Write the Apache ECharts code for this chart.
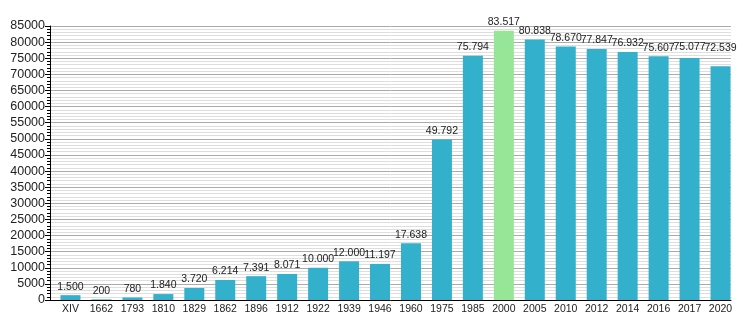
<!DOCTYPE html>
<html>
<head>
<meta charset="utf-8">
<script src="https://cdn.jsdelivr.net/npm/echarts@6/dist/echarts.min.js"></script>
<style>
  html, body { margin: 0; padding: 0; background: #fff; }
  #chart { width: 750px; height: 330px; }
</style>
</head>
<body>
<div id="chart"></div>
<script>
// Population by census year
const years = ['XIV', '1662', '1793', '1810', '1829', '1862', '1896', '1912', '1922', '1939', '1946',
  '1960', '1975', '1985', '2000', '2005', '2010', '2012', '2014', '2016', '2017', '2020'];
const population = [1500, 200, 780, 1840, 3720, 6214, 7391, 8071, 10000, 12000, 11197,
  17638, 49792, 75794, 83517, 80838, 78670, 77847, 76932, 75607, 75077, 72539];
const highlightYear = '2000';

const yMin = 0;
const yMax = 85000;
const yStep = 5000;

const barColor = '#33b1cc';
const highlightColor = '#97e597';
const fontFamily = '"Liberation Sans", Arial, sans-serif';

// Last labels are kept on one line with their neighbour (extra lift in px)
const labelLift = { '2017': 2, '2020': 10 };

// Thousands separated with a dot: 83517 -> "83.517"
function dotted(v) {
  return String(v).replace(/\B(?=(\d{3})+(?!\d))/g, '.');
}

const chart = echarts.init(document.getElementById('chart'), null, { renderer: 'canvas' });

chart.setOption({
  animation: false,
  backgroundColor: '#ffffff',
  grid: { left: 50, right: 19, top: 26, bottom: 30, containLabel: false },
  xAxis: {
    type: 'category',
    data: years,
    boundaryGap: true,
    axisLine: { show: true, lineStyle: { color: '#000', width: 1 } },
    axisTick: { show: false },
    axisLabel: {
      color: '#222',
      fontFamily: fontFamily,
      fontSize: 10.5,
      margin: 4,
      padding: [0, 0, 0, 10],
      interval: 0
    },
    splitLine: { show: false }
  },
  yAxis: {
    type: 'value',
    min: yMin,
    max: yMax,
    interval: yStep,
    axisLine: { show: true, lineStyle: { color: '#000', width: 1 } },
    axisTick: { show: true, length: 5, lineStyle: { color: '#000' } },
    minorTick: { show: true, splitNumber: 5, length: 3, lineStyle: { color: '#000' } },
    axisLabel: {
      color: '#222',
      fontFamily: fontFamily,
      fontSize: 12.5,
      margin: 5,
      formatter: v => String(v)
    },
    splitLine: { show: true, lineStyle: { color: '#ababab', width: 1 } },
    minorSplitLine: { show: true, lineStyle: { color: '#dedede', width: 1 } }
  },
  series: [
    {
      // spacer that pushes the visible bars to the right side of each band
      type: 'bar',
      barWidth: 10,
      barGap: 0,
      data: years.map(() => null),
      silent: true,
      itemStyle: { color: 'rgba(0,0,0,0)' }
    },
    {
      type: 'bar',
      barWidth: 20,
      barGap: 0,
      data: population.map((v, i) => ({
        value: v,
        itemStyle: { color: years[i] === highlightYear ? highlightColor : barColor },
        label: { offset: [0, -(labelLift[years[i]] || 0)] }
      })),
      label: {
        show: true,
        position: 'top',
        distance: 3,
        color: '#222',
        fontFamily: fontFamily,
        fontSize: 10.5,
        formatter: p => dotted(p.value)
      }
    }
  ]
});
</script>
</body>
</html>
